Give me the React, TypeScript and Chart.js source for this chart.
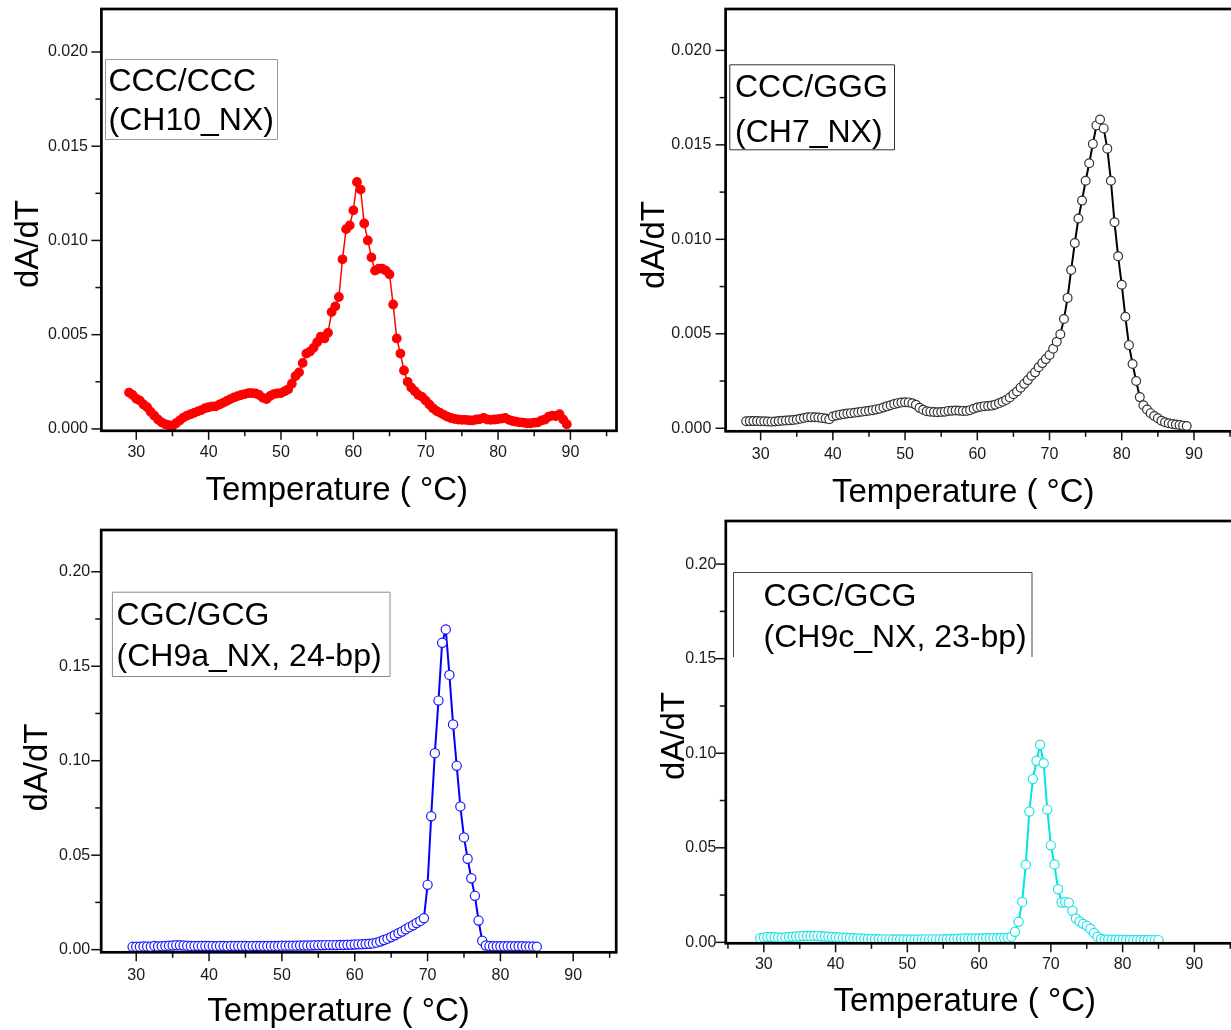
import React, { useEffect, useRef } from 'react';
import { Chart, registerables } from 'chart.js';

Chart.register(...registerables);

// ---------------- Data ----------------
const TEMP_CH10 = [
  29, 29.5, 30, 30.5, 31, 31.5, 32, 32.5, 33, 33.5,
  34, 34.5, 35, 35.5, 36, 36.5, 37, 37.5, 38, 38.5,
  39, 39.5, 40, 40.5, 41, 41.5, 42, 42.5, 43, 43.5,
  44, 44.5, 45, 45.5, 46, 46.5, 47, 47.5, 48, 48.5,
  49, 49.5, 50, 50.5, 51, 51.5, 52, 52.5, 53, 53.5,
  54, 54.5, 55, 55.5, 56, 56.5, 57, 57.5, 58, 58.5,
  59, 59.5, 60, 60.5, 61, 61.5, 62, 62.5, 63, 63.5,
  64, 64.5, 65, 65.5, 66, 66.5, 67, 67.5, 68, 68.5,
  69, 69.5, 70, 70.5, 71, 71.5, 72, 72.5, 73, 73.5,
  74, 74.5, 75, 75.5, 76, 76.5, 77, 77.5, 78, 78.5,
  79, 79.5, 80, 80.5, 81, 81.5, 82, 82.5, 83, 83.5,
  84, 84.5, 85, 85.5, 86, 86.5, 87, 87.5, 88, 88.5,
  89, 89.5,
];
const DADT_CH10 = [
  0.00193, 0.0018, 0.0016, 0.0015, 0.0013, 0.00115, 0.0009, 0.0007, 0.0005, 0.00035,
  0.00025, 0.0002, 0.00015, 0.0003, 0.00045, 0.0006, 0.0007, 0.00078, 0.00085, 0.00093,
  0.001, 0.0011, 0.00115, 0.0012, 0.0012, 0.0013, 0.00138, 0.00148, 0.00158, 0.00167,
  0.00174, 0.0018, 0.00185, 0.0019, 0.0019, 0.00188, 0.0018, 0.00165, 0.00158, 0.00175,
  0.00185, 0.00188, 0.0019, 0.002, 0.0021, 0.0024, 0.0028, 0.003, 0.0035, 0.004,
  0.0041, 0.0043, 0.0046, 0.0049, 0.0048, 0.0051, 0.0062, 0.0065, 0.007, 0.009,
  0.0106, 0.0108, 0.0116, 0.0131, 0.0127, 0.0109, 0.01, 0.0091, 0.0084, 0.0085,
  0.0085, 0.0084, 0.0082, 0.0066, 0.0048, 0.004, 0.0031, 0.0025, 0.0022, 0.002,
  0.0018, 0.0017, 0.0015, 0.0013, 0.0011, 0.00095, 0.00085, 0.00075, 0.00065, 0.00058,
  0.00053, 0.0005, 0.00048, 0.00048, 0.00046, 0.00045, 0.0005, 0.00052, 0.00058, 0.0005,
  0.00048, 0.0005, 0.00052, 0.00055, 0.00058, 0.00048, 0.00042, 0.00038, 0.00035, 0.00033,
  0.0003, 0.0003, 0.00033, 0.00035, 0.00045, 0.0005, 0.00065, 0.0007, 0.00068, 0.00078,
  0.0005, 0.00025,
];

const TEMP_CH7 = [
  28, 28.5, 29, 29.5, 30, 30.5, 31, 31.5, 32, 32.5,
  33, 33.5, 34, 34.5, 35, 35.5, 36, 36.5, 37, 37.5,
  38, 38.5, 39, 39.5, 40, 40.5, 41, 41.5, 42, 42.5,
  43, 43.5, 44, 44.5, 45, 45.5, 46, 46.5, 47, 47.5,
  48, 48.5, 49, 49.5, 50, 50.5, 51, 51.5, 52, 52.5,
  53, 53.5, 54, 54.5, 55, 55.5, 56, 56.5, 57, 57.5,
  58, 58.5, 59, 59.5, 60, 60.5, 61, 61.5, 62, 62.5,
  63, 63.5, 64, 64.5, 65, 65.5, 66, 66.5, 67, 67.5,
  68, 68.5, 69, 69.5, 70, 70.5, 71, 71.5, 72, 72.5,
  73, 73.5, 74, 74.5, 75, 75.5, 76, 76.5, 77, 77.5,
  78, 78.5, 79, 79.5, 80, 80.5, 81, 81.5, 82, 82.5,
  83, 83.5, 84, 84.5, 85, 85.5, 86, 86.5, 87, 87.5,
  88, 88.5, 89,
];
const DADT_CH7 = [
  0.00037, 0.00038, 0.00038, 0.00038, 0.00037, 0.00037, 0.00036, 0.00035, 0.00036, 0.00038,
  0.0004, 0.00041, 0.00042, 0.00044, 0.00046, 0.0005, 0.00054, 0.00058, 0.00059, 0.00058,
  0.00057, 0.00055, 0.00052, 0.00048, 0.00062, 0.00068, 0.00072, 0.00075, 0.00078, 0.0008,
  0.00082, 0.00085, 0.00088, 0.0009, 0.00093, 0.00096, 0.001, 0.00104, 0.0011, 0.00116,
  0.00122, 0.00128, 0.00133, 0.00136, 0.00138, 0.00137, 0.00132, 0.00124, 0.00108, 0.00098,
  0.0009, 0.00088, 0.00086, 0.00085, 0.00086, 0.00088, 0.00092, 0.00093, 0.00094, 0.00093,
  0.00092, 0.00091, 0.00096, 0.00103, 0.0011, 0.00114, 0.00117, 0.00118, 0.0012, 0.00125,
  0.00132, 0.0014, 0.0015, 0.00163, 0.0018, 0.00195, 0.00215, 0.00235, 0.00255, 0.00278,
  0.00296, 0.00323, 0.00345, 0.00366, 0.00388, 0.00421, 0.00458, 0.00498, 0.00578, 0.0069,
  0.00838, 0.0098, 0.0111, 0.01205, 0.0131, 0.01403, 0.01505, 0.01603, 0.01634, 0.01587,
  0.0148, 0.0131, 0.0109, 0.0091, 0.0076, 0.0059, 0.0044, 0.0034, 0.0025, 0.00165,
  0.00122, 0.00099, 0.0008, 0.00065, 0.00053, 0.0004, 0.00032, 0.00027, 0.00023, 0.0002,
  0.00017, 0.00014, 0.00012,
];

const TEMP_CH9A = [
  29.5, 30, 30.5, 31, 31.5, 32, 32.5, 33, 33.5, 34,
  34.5, 35, 35.5, 36, 36.5, 37, 37.5, 38, 38.5, 39,
  39.5, 40, 40.5, 41, 41.5, 42, 42.5, 43, 43.5, 44,
  44.5, 45, 45.5, 46, 46.5, 47, 47.5, 48, 48.5, 49,
  49.5, 50, 50.5, 51, 51.5, 52, 52.5, 53, 53.5, 54,
  54.5, 55, 55.5, 56, 56.5, 57, 57.5, 58, 58.5, 59,
  59.5, 60, 60.5, 61, 61.5, 62, 62.5, 63, 63.5, 64,
  64.5, 65, 65.5, 66, 66.5, 67, 67.5, 68, 68.5, 69,
  69.5, 70, 70.5, 71, 71.5, 72, 72.5, 73, 73.5, 74,
  74.5, 75, 75.5, 76, 76.5, 77, 77.5, 78, 78.5, 79,
  79.5, 80, 80.5, 81, 81.5, 82, 82.5, 83, 83.5, 84,
  84.5, 85,
];
const DADT_CH9A = [
  0.0015, 0.0016, 0.0016, 0.0017, 0.0017, 0.0016, 0.002, 0.0017, 0.0018, 0.002,
  0.0021, 0.0022, 0.0023, 0.0023, 0.0022, 0.0021, 0.002, 0.002, 0.0019, 0.0019,
  0.0019, 0.0019, 0.0019, 0.0018, 0.0019, 0.0019, 0.0018, 0.0019, 0.0019, 0.0019,
  0.0019, 0.0019, 0.0018, 0.0019, 0.0019, 0.0019, 0.002, 0.002, 0.002, 0.002,
  0.002, 0.0021, 0.0021, 0.0021, 0.0021, 0.0021, 0.0022, 0.0022, 0.0022, 0.0022,
  0.0023, 0.0023, 0.0023, 0.0024, 0.0024, 0.0024, 0.0024, 0.0025, 0.0025, 0.0026,
  0.0026, 0.0027, 0.0028, 0.0029, 0.003, 0.0031, 0.0033, 0.0037, 0.0043, 0.0051,
  0.0058, 0.0067, 0.0076, 0.0087, 0.0096, 0.0108, 0.0119, 0.0129, 0.0141, 0.0152,
  0.0166, 0.0343, 0.0706, 0.104, 0.1318, 0.1624, 0.1695, 0.1454, 0.1192, 0.0973,
  0.0758, 0.0594, 0.0481, 0.0378, 0.0285, 0.0154, 0.0047, 0.0022, 0.0019, 0.0018,
  0.0018, 0.0018, 0.0018, 0.0018, 0.0018, 0.0018, 0.0018, 0.0018, 0.0017, 0.0017,
  0.0017, 0.0016,
];

const TEMP_CH9C = [
  29.5, 30, 30.5, 31, 31.5, 32, 32.5, 33, 33.5, 34,
  34.5, 35, 35.5, 36, 36.5, 37, 37.5, 38, 38.5, 39,
  39.5, 40, 40.5, 41, 41.5, 42, 42.5, 43, 43.5, 44,
  44.5, 45, 45.5, 46, 46.5, 47, 47.5, 48, 48.5, 49,
  49.5, 50, 50.5, 51, 51.5, 52, 52.5, 53, 53.5, 54,
  54.5, 55, 55.5, 56, 56.5, 57, 57.5, 58, 58.5, 59,
  59.5, 60, 60.5, 61, 61.5, 62, 62.5, 63, 63.5, 64,
  64.5, 65, 65.5, 66, 66.5, 67, 67.5, 68, 68.5, 69,
  69.5, 70, 70.5, 71, 71.5, 72, 72.5, 73, 73.5, 74,
  74.5, 75, 75.5, 76, 76.5, 77, 77.5, 78, 78.5, 79,
  79.5, 80, 80.5, 81, 81.5, 82, 82.5, 83, 83.5, 84,
  84.5, 85,
];
const DADT_CH9C = [
  0.0022, 0.0026, 0.0028, 0.0028, 0.0027, 0.0026, 0.0025, 0.0026, 0.0028, 0.003,
  0.0031, 0.0032, 0.0033, 0.0034, 0.0034, 0.0034, 0.0033, 0.0032, 0.0031, 0.003,
  0.0028, 0.0027, 0.0026, 0.0025, 0.0024, 0.0023, 0.0022, 0.0021, 0.002, 0.0019,
  0.0018, 0.0018, 0.0017, 0.0017, 0.0016, 0.0016, 0.0016, 0.0015, 0.0015, 0.0015,
  0.0015, 0.0015, 0.0015, 0.0015, 0.0015, 0.0015, 0.0016, 0.0016, 0.0016, 0.0016,
  0.0016, 0.0017, 0.0017, 0.0018, 0.0018, 0.0019, 0.0019, 0.002, 0.002, 0.0021,
  0.0021, 0.0021, 0.0022, 0.0022, 0.0022, 0.0022, 0.0022, 0.0023, 0.0023, 0.0024,
  0.003, 0.0056, 0.0109, 0.0214, 0.0411, 0.0692, 0.0864, 0.096, 0.1045, 0.0947,
  0.0702, 0.0513, 0.0412, 0.0281, 0.0211, 0.0212, 0.021, 0.0167, 0.0126, 0.011,
  0.0098, 0.0088, 0.0072, 0.005, 0.003, 0.0018, 0.0015, 0.0014, 0.0014, 0.0014,
  0.0014, 0.0014, 0.0013, 0.0013, 0.0013, 0.0013, 0.0013, 0.0013, 0.0013, 0.0012,
  0.0012, 0.0012,
];

// Tick labels
const X_TICKS = [30, 40, 50, 60, 70, 80, 90];
const Y_TICKS_SMALL = [0, 0.005, 0.01, 0.015, 0.02];
const Y_TICKS_LARGE = [0, 0.05, 0.1, 0.15, 0.2];

const X_TITLE = 'Temperature ( °C)';
const Y_TITLE = 'dA/dT';

const FONT = '"Liberation Sans", Arial, Helvetica, sans-serif';

// ---------------- Panel configuration (layout and style) ----------------
type Panel = {
  canvas: { left: number; top: number; width: number; height: number };
  area: { l: number; t: number; r: number; b: number }; // page coordinates
  xMin: number; xMax: number; yMin: number; yMax: number;
  yTicks: number[]; yDigits: number; yMinor: number;
  yLabelGap: number; xLabelGap: number;
  temps: number[]; values: number[];
  color: string; pointFill: string; pointBorder: string; radius: number; lineWidth: number;
  box: { x: number; y: number; w: number; h: number; stroke: string; noBottom?: boolean;
    lines: string[]; textX: number; baselines: number[] };
  yTitle: { x: number; y: number };
  xTitle: { x: number; y: number };
};

const PANELS: Panel[] = [
  {
    canvas: { left: 0, top: 0, width: 622, height: 515 },
    area: { l: 101.4, t: 9, r: 618.5, b: 430.8 },
    xMin: 25.18, xMax: 96.37, yMin: -0.0001, yMax: 0.02228,
    yTicks: Y_TICKS_SMALL, yDigits: 3, yMinor: 0.0025,
    yLabelGap: 13.4, xLabelGap: 11.9,
    temps: TEMP_CH10, values: DADT_CH10,
    color: '#ff0000', pointFill: '#ff0000', pointBorder: '#ff0000', radius: 4.3, lineWidth: 1.5,
    box: { x: 105, y: 59, w: 172, h: 80, stroke: '#9a9a9a', lines: ['CCC/CCC', '(CH10_NX)'], textX: 108.5, baselines: [90.7, 129.5] },
    yTitle: { x: 38.4, y: 244 },
    xTitle: { x: 336.7, y: 500 },
  },
  {
    canvas: { left: 622, top: 0, width: 618, height: 515 },
    area: { l: 725.6, t: 9, r: 1240, b: 431.3 },
    xMin: 25.15, xMax: 95.6, yMin: -0.00016, yMax: 0.02219,
    yTicks: Y_TICKS_SMALL, yDigits: 3, yMinor: 0.0025,
    yLabelGap: 14.3, xLabelGap: 14.1,
    temps: TEMP_CH7, values: DADT_CH7,
    color: '#000000', pointFill: '#ffffff', pointBorder: '#333333', radius: 4.4, lineWidth: 2,
    box: { x: 729.3, y: 64.3, w: 164.7, h: 85, stroke: '#333333', lines: ['CCC/GGG', '(CH7_NX)'], textX: 735, baselines: [96.7, 141.7] },
    yTitle: { x: 664, y: 245 },
    xTitle: { x: 963.3, y: 501.7 },
  },
  {
    canvas: { left: 0, top: 515, width: 622, height: 515 },
    area: { l: 101.2, t: 530, r: 618.5, b: 952.3 },
    xMin: 25.19, xMax: 95.9, yMin: -0.0014, yMax: 0.2221,
    yTicks: Y_TICKS_LARGE, yDigits: 2, yMinor: 0.025,
    yLabelGap: 11, xLabelGap: 14.1,
    temps: TEMP_CH9A, values: DADT_CH9A,
    color: '#0000ff', pointFill: '#ffffff', pointBorder: '#1a1aff', radius: 4.6, lineWidth: 2,
    box: { x: 111.9, y: 591.7, w: 277.6, h: 84.3, stroke: '#8a8a8a', lines: ['CGC/GCG', '(CH9a_NX, 24-bp)'], textX: 116.6, baselines: [625, 666] },
    yTitle: { x: 46.7, y: 767.5 },
    xTitle: { x: 338.5, y: 1021 },
  },
  {
    canvas: { left: 622, top: 515, width: 618, height: 515 },
    area: { l: 725.8, t: 521, r: 1240, b: 943.3 },
    xMin: 24.7, xMax: 95.55, yMin: -0.0005, yMax: 0.2228,
    yTicks: Y_TICKS_LARGE, yDigits: 2, yMinor: 0.025,
    yLabelGap: 9.4, xLabelGap: 12.1,
    temps: TEMP_CH9C, values: DADT_CH9C,
    color: '#00e5e5', pointFill: '#ffffff', pointBorder: '#1ee3e3', radius: 4.6, lineWidth: 2,
    box: { x: 733, y: 572, w: 298.5, h: 85, stroke: '#444444', noBottom: true, lines: ['CGC/GCG', '(CH9c_NX, 23-bp)'], textX: 763.5, baselines: [605.7, 646.7] },
    yTitle: { x: 683.8, y: 736 },
    xTitle: { x: 964.7, y: 1010.7 },
  },
];

function makeDecor(p: Panel) {
  const ox = p.canvas.left;
  const oy = p.canvas.top;
  return {
    id: 'panelDecor',
    afterDraw(chart: any) {
      const { ctx, chartArea: a, scales } = chart;
      const xs = scales.x;
      const ys = scales.y;
      ctx.save();
      // tick marks (major + minor), outward
      ctx.strokeStyle = '#111';
      ctx.lineWidth = 1.5;
      for (let v = Math.ceil(p.xMin / 5) * 5; v <= p.xMax; v += 5) {
        const px = xs.getPixelForValue(v);
        const len = v % 10 === 0 ? 9 : 5.5;
        ctx.beginPath();
        ctx.moveTo(px, a.bottom);
        ctx.lineTo(px, a.bottom + len);
        ctx.stroke();
      }
      p.yTicks.forEach((v, i) => {
        const py = ys.getPixelForValue(v);
        ctx.beginPath();
        ctx.moveTo(a.left, py);
        ctx.lineTo(a.left - 10, py);
        ctx.stroke();
        if (i < p.yTicks.length - 1 || v + p.yMinor <= p.yMax) {
          const pm = ys.getPixelForValue(v + p.yMinor);
          ctx.beginPath();
          ctx.moveTo(a.left, pm);
          ctx.lineTo(a.left - 6, pm);
          ctx.stroke();
        }
      });
      // frame
      ctx.strokeStyle = '#000';
      ctx.lineWidth = 2.7;
      ctx.strokeRect(a.left, a.top, a.right - a.left, a.bottom - a.top);

      // label box
      const bx = p.box.x - ox;
      const by = p.box.y - oy;
      ctx.strokeStyle = p.box.stroke;
      ctx.lineWidth = 1;
      ctx.beginPath();
      if (p.box.noBottom) {
        ctx.moveTo(bx + 0.5, by + p.box.h);
        ctx.lineTo(bx + 0.5, by + 0.5);
        ctx.lineTo(bx + p.box.w + 0.5, by + 0.5);
        ctx.lineTo(bx + p.box.w + 0.5, by + p.box.h);
      } else {
        ctx.rect(bx + 0.5, by + 0.5, p.box.w, p.box.h);
      }
      ctx.stroke();
      ctx.fillStyle = '#000';
      ctx.font = `32px ${FONT}`;
      ctx.textAlign = 'left';
      ctx.textBaseline = 'alphabetic';
      p.box.lines.forEach((line, i) => {
        ctx.fillText(line, p.box.textX - ox, p.box.baselines[i] - oy);
      });

      // axis titles
      ctx.font = `33px ${FONT}`;
      ctx.textAlign = 'center';
      ctx.fillText(X_TITLE, p.xTitle.x - ox, p.xTitle.y - oy);
      ctx.save();
      ctx.translate(p.yTitle.x - ox, p.yTitle.y - oy);
      ctx.rotate(-Math.PI / 2);
      ctx.fillText(Y_TITLE, 0, 0);
      ctx.restore();

      ctx.restore();
    },
  };
}

function PanelChart({ p }: { p: Panel }) {
  const ref = useRef<HTMLCanvasElement | null>(null);
  useEffect(() => {
    if (!ref.current) return;
    const w = p.canvas.width;
    const h = p.canvas.height;
    const l = p.area.l - p.canvas.left;
    const t = p.area.t - p.canvas.top;
    const r = p.area.r - p.canvas.left;
    const b = p.area.b - p.canvas.top;
    const tickFont = { family: FONT, size: 16, lineHeight: 1.2 };
    const chart = new Chart(ref.current, {
      type: 'scatter',
      data: {
        datasets: [
          {
            data: p.temps.map((tt, i) => ({ x: tt, y: p.values[i] })),
            showLine: true,
            borderColor: p.color,
            borderWidth: p.lineWidth,
            pointRadius: p.radius,
            pointHoverRadius: p.radius,
            pointBackgroundColor: p.pointFill,
            pointBorderColor: p.pointBorder,
            pointBorderWidth: 1.2,
            tension: 0,
          } as any,
        ],
      },
      options: {
        animation: false,
        responsive: false,
        events: [],
        layout: { padding: { left: 0, top: t, right: w - r, bottom: 0 } },
        plugins: {
          legend: { display: false },
          tooltip: { enabled: false },
          title: { display: false },
        },
        scales: {
          x: {
            type: 'linear',
            min: p.xMin,
            max: p.xMax,
            grid: { display: false, drawTicks: false },
            border: { display: false },
            ticks: {
              font: tickFont,
              color: '#1a1a1a',
              padding: p.xLabelGap,
              maxRotation: 0,
              autoSkip: false,
              callback: (v: any) => String(Math.round(Number(v))),
            },
            afterBuildTicks: (s: any) => {
              s.ticks = X_TICKS.map((v) => ({ value: v }));
            },
            afterFit: (s: any) => {
              s.height = h - b;
              s.paddingLeft = 0;
              s.paddingRight = 0;
            },
          },
          y: {
            type: 'linear',
            min: p.yMin,
            max: p.yMax,
            grid: { display: false, drawTicks: false },
            border: { display: false },
            ticks: {
              font: tickFont,
              color: '#1a1a1a',
              padding: p.yLabelGap,
              autoSkip: false,
              callback: (v: any) => Number(v).toFixed(p.yDigits),
            },
            afterBuildTicks: (s: any) => {
              s.ticks = p.yTicks.map((v) => ({ value: v }));
            },
            afterFit: (s: any) => {
              s.width = l;
              s.paddingTop = 0;
              s.paddingBottom = 0;
            },
          },
        },
      },
      plugins: [makeDecor(p)],
    } as any);
    return () => chart.destroy();
  }, [p]);
  return (
    <canvas
      ref={ref}
      width={p.canvas.width}
      height={p.canvas.height}
      style={{ position: 'absolute', left: p.canvas.left, top: p.canvas.top, width: p.canvas.width, height: p.canvas.height }}
    />
  );
}

export default function App() {
  return (
    <div style={{ position: 'absolute', left: 0, top: 0, width: 1231, height: 1030, overflow: 'hidden', background: '#ffffff' }}>
      {PANELS.map((p, i) => (
        <PanelChart key={i} p={p} />
      ))}
    </div>
  );
}
